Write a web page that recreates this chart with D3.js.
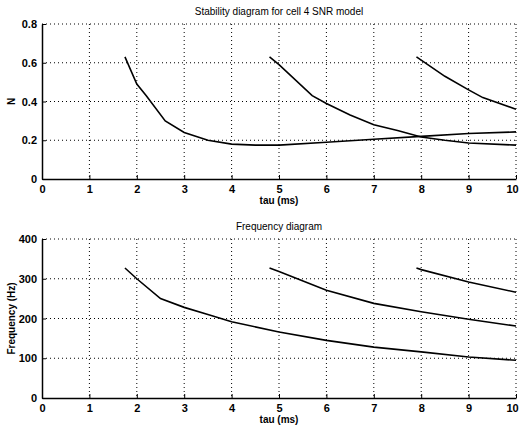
<!DOCTYPE html>
<html>
<head>
<meta charset="utf-8">
<script src="https://cdn.jsdelivr.net/npm/d3@7"></script>
<style>
  body { margin: 0; background: #fff; }
  svg { display: block; font-family: "Liberation Sans", Arial, sans-serif; }
  .grid line { stroke: #000; stroke-width: 1; stroke-dasharray: 1,3; }
  .axis text { font-size: 11px; font-weight: bold; fill: #000; }
</style>
</head>
<body>
<svg width="519" height="426"></svg>
<script>
// data
var tauTicks = [0, 1, 2, 3, 4, 5, 6, 7, 8, 9, 10];
var nTicks = [0, 0.2, 0.4, 0.6, 0.8];
var freqTicks = [0, 100, 200, 300, 400];

var nTau1 = [1.75, 2, 2.2, 2.6, 3, 3.5, 4, 4.5, 5, 6, 7, 8, 9, 10];
var nVal1 = [0.63, 0.49, 0.43, 0.30, 0.24, 0.20, 0.18, 0.175, 0.175, 0.19, 0.205, 0.22, 0.235, 0.243];
var nTau2 = [4.8, 5, 5.7, 6, 6.5, 7, 7.5, 8, 8.5, 9, 10];
var nVal2 = [0.63, 0.59, 0.43, 0.39, 0.33, 0.28, 0.25, 0.217, 0.2, 0.186, 0.175];
var nTau3 = [7.9, 8.5, 9, 9.3, 10];
var nVal3 = [0.63, 0.53, 0.46, 0.42, 0.36];

var fTau1 = [1.75, 2, 2.5, 3, 3.5, 4, 5, 6, 7, 8, 9, 10];
var fVal1 = [327, 300, 250, 228, 210, 192, 166, 145, 128, 116, 103, 95];
var fTau2 = [4.8, 5, 6, 7, 8, 9, 10];
var fVal2 = [327, 318, 271, 238, 217, 198, 181];
var fTau3 = [7.9, 8, 9, 10];
var fVal3 = [327, 323, 292, 266];

var svg = d3.select("svg");
var left = 42, right = 516;

var x = d3.scaleLinear().domain([0, 10]).range([left, right]);

function panel(top, bottom, yMax, yTicks, yFmt, title, ylab, series) {
    var y = d3.scaleLinear().domain([0, yMax]).range([bottom, top]);
    var g = svg.append("g");

    // dotted grid
    var grid = g.append("g").attr("class", "grid");
    grid.selectAll(".gx").data(tauTicks.slice(1)).enter().append("line")
        .attr("x1", function (d) { return x(d); }).attr("x2", function (d) { return x(d); })
        .attr("y1", top).attr("y2", bottom);
    grid.selectAll(".gy").data(yTicks.slice(1)).enter().append("line")
        .attr("x1", left).attr("x2", right)
        .attr("y1", function (d) { return y(d); }).attr("y2", function (d) { return y(d); });

    g.append("g").attr("class", "axis")
        .attr("transform", "translate(0," + bottom + ")")
        .call(d3.axisBottom(x).tickValues(tauTicks).tickSizeInner(-4).tickSizeOuter(0).tickPadding(6))
        .call(function (a) {
            a.select(".domain").attr("stroke-width", 1.5);
            // last label sits at the window edge, nudge it in a bit
            a.selectAll(".tick text").filter(function (d) { return d === 10; }).attr("dx", -4);
        });

    g.append("g").attr("class", "axis")
        .attr("transform", "translate(" + left + ",0)")
        .call(d3.axisLeft(y).tickValues(yTicks).tickFormat(yFmt).tickSizeInner(-4).tickSizeOuter(0).tickPadding(5))
        .call(function (a) { a.select(".domain").attr("stroke-width", 1.5); });

    var line = d3.line()
        .x(function (d) { return x(d[0]); })
        .y(function (d) { return y(d[1]); });

    series.forEach(function (s) {
        g.append("path")
            .datum(d3.zip(s[0], s[1]))
            .attr("fill", "none")
            .attr("stroke", "#000")
            .attr("stroke-width", 1.6)
            .attr("d", line);
    });

    g.append("text")
        .attr("x", (left + right) / 2).attr("y", top - 9)
        .attr("text-anchor", "middle")
        .style("font-size", "10px")
        .text(title);

    g.append("text")
        .attr("x", (left + right) / 2).attr("y", bottom + 25)
        .attr("text-anchor", "middle")
        .style("font-size", "10px").style("font-weight", "bold")
        .text("tau (ms)");

    g.append("text")
        .attr("transform", "translate(15," + (top + bottom) / 2 + ") rotate(-90)")
        .attr("text-anchor", "middle")
        .style("font-size", "10px").style("font-weight", "bold")
        .text(ylab);
}

panel(24, 179, 0.8, nTicks, function (d) { return d === 0 ? "0" : d3.format(".1f")(d); },
    "Stability diagram for cell 4 SNR model", "N",
    [[nTau1, nVal1], [nTau2, nVal2], [nTau3, nVal3]]);

panel(239, 398, 400, freqTicks, d3.format("d"),
    "Frequency diagram", "Frequency (Hz)",
    [[fTau1, fVal1], [fTau2, fVal2], [fTau3, fVal3]]);
</script>
</body>
</html>
